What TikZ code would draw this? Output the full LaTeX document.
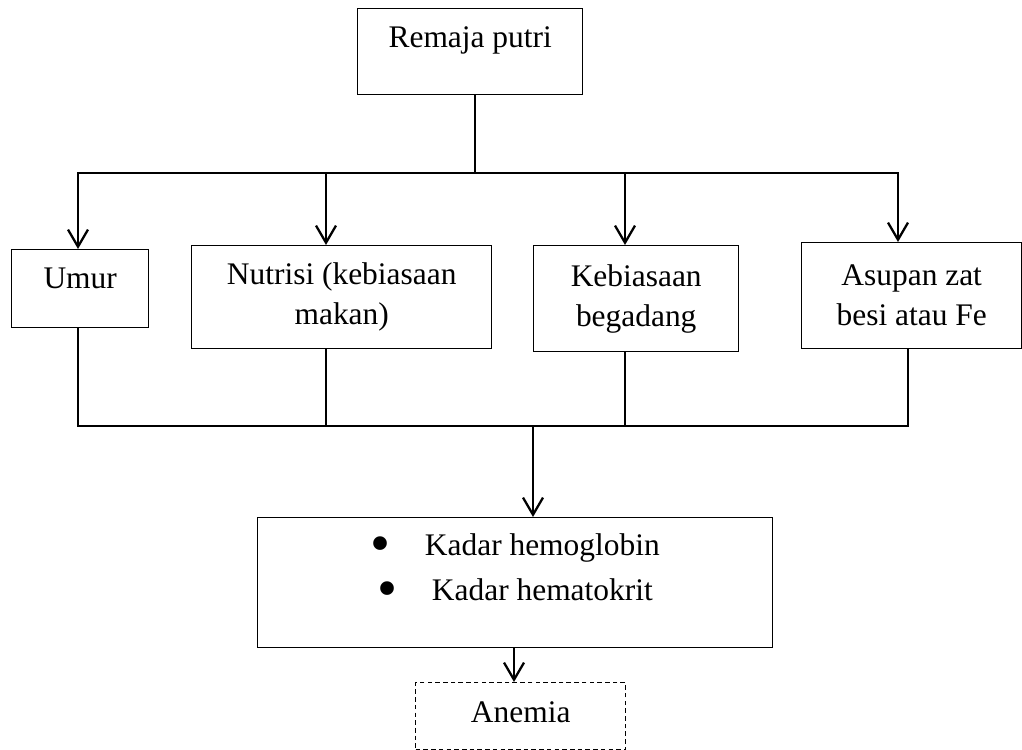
\documentclass[tikz,border=0pt]{standalone}
\usepackage{fontspec}
\setmainfont{Liberation Serif}
\usetikzlibrary{arrows.meta}
\newcommand{\titik}{\smash{\raisebox{-2.4pt}{\fontsize{20}{14}\selectfont\textbullet}}\hspace{12pt}}

\begin{document}
\begin{tikzpicture}[x=0.35pt, y=-0.35pt, font=\fontsize{11}{14}\selectfont,
	kotak/.style={draw, line width=0.5pt, anchor=north west, inner sep=0pt, align=center},
	panah/.style={-{Straight Barb[length=6pt,width=7pt]}, line width=0.8pt},
	garis/.style={line width=0.55pt}]
\useasboundingbox (0,0) rectangle (1022,750);
\node[kotak, minimum width=78.75pt, text height=13.65pt, text depth=16.45pt] (remaja) at (357,8) {Remaja putri};
\node[kotak, minimum width=47.95pt, text height=13.65pt, text depth=13.65pt] (umur) at (11,249) {Umur};
\node[kotak, minimum width=105pt, minimum height=36.05pt] (nutrisi) at (191,245) {Nutrisi (kebiasaan\\makan)};
\node[kotak, minimum width=71.75pt, minimum height=37.1pt] (begadang) at (533,245) {Kebiasaan\\begadang};
\node[kotak, minimum width=77pt, minimum height=37.1pt] (asupan) at (801,242) {Asupan zat\\besi atau Fe};
\node[kotak, minimum width=180.25pt, text height=29pt, text depth=16.45pt] (kadar) at (257,517)
	{\titik Kadar hemoglobin\\[1.75pt]\titik Kadar hematokrit};
\node[kotak, dash pattern=on 1.6pt off 1.1pt, minimum width=73.5pt, text height=14pt, text depth=9.45pt] (anemia) at (415,682) {Anemia};

\coordinate (r) at (475,173);
\coordinate (t1) at (78,173);
\coordinate (t2) at (326,173);
\coordinate (t3) at (625,173);
\coordinate (t4) at (898,173);
\draw[line width=0.8pt] (r |- remaja.south) -- (r);
\draw[line width=0.8pt, line cap=rect] (t1) -- (t4);
\foreach \n/\k in {umur/t1, nutrisi/t2, begadang/t3, asupan/t4}
	\draw[panah] (\k) -- (\k |- \n.north);

\coordinate (b1) at (78,426);
\coordinate (b2) at (326,426);
\coordinate (b3) at (625,426);
\coordinate (b4) at (908,426);
\coordinate (m) at (533,426);
\coordinate (k) at (514,0);
\foreach \n/\k in {umur/b1, nutrisi/b2, begadang/b3, asupan/b4}
	\draw[garis] (\k |- \n.south) -- (\k);
\draw[garis, line cap=rect] (b1) -- (b4);
\draw[panah] (m) -- (m |- kadar.north);
\draw[panah] (k |- kadar.south) -- (k |- anemia.north);
\end{tikzpicture}
\end{document}
